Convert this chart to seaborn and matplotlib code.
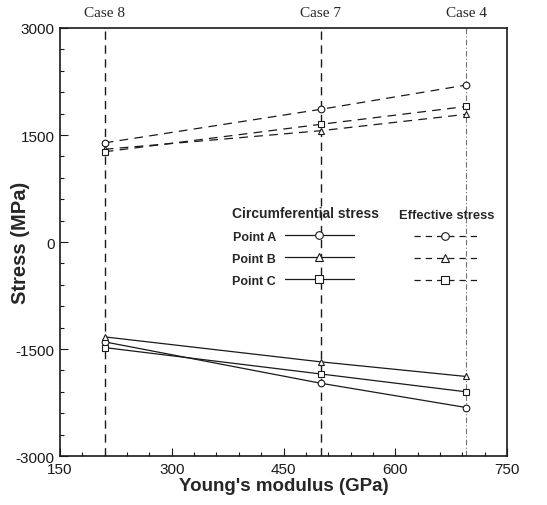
import matplotlib
matplotlib.use("Agg")
import matplotlib.pyplot as plt
import seaborn as sns
import numpy as np
import pandas as pd
from matplotlib.lines import Line2D
from matplotlib.ticker import MultipleLocator
from matplotlib import transforms

# data
youngs_modulus = [210, 500, 695]
case_labels = ["Case 8", "Case 7", "Case 4"]
points = ["Point A", "Point B", "Point C"]
circ_stress = {
    "Point A": [-1400, -1980, -2320],
    "Point B": [-1330, -1680, -1885],
    "Point C": [-1480, -1850, -2100],
}
eff_stress = {
    "Point A": [1390, 1860, 2200],
    "Point B": [1300, 1560, 1790],
    "Point C": [1265, 1650, 1900],
}
markers = {"Point A": "o", "Point B": "^", "Point C": "s"}

sns.set_theme(style="white")
plt.rcParams["font.family"] = ["Liberation Sans", "DejaVu Sans"]
plt.rcParams["axes.unicode_minus"] = False

fig = plt.figure(figsize=(5.47, 5.06), dpi=100)
ax = fig.add_axes([0.1097, 0.0968, 0.8173, 0.8459])

# vertical case lines
for i, (xv, lab) in enumerate(zip(youngs_modulus, case_labels)):
    if i < 2:
        ax.axvline(xv, color="k", lw=1.0, dashes=(6, 4), zorder=1)
    else:
        ax.axvline(xv, color="0.45", lw=0.8, dashes=(5, 2, 1, 2), zorder=1)
    ax.text(xv, 1.02, lab, transform=transforms.blended_transform_factory(ax.transData, ax.transAxes),
            ha="center", va="bottom", fontsize=11, family=["Liberation Serif", "DejaVu Serif"])

for p in points:
    sns.lineplot(x=youngs_modulus, y=circ_stress[p], ax=ax, color="k", lw=0.9,
                 marker=markers[p], markersize=4.8, markerfacecolor="white",
                 markeredgecolor="k", markeredgewidth=0.8, zorder=3)
    sns.lineplot(x=youngs_modulus, y=eff_stress[p], ax=ax, color="k", lw=0.9,
                 marker=markers[p], markersize=4.8, markerfacecolor="white",
                 markeredgecolor="k", markeredgewidth=0.8, dashes=(7, 5), zorder=3)

ax.set_xlim(150, 750)
ax.set_ylim(-3000, 3000)
ax.xaxis.set_major_locator(MultipleLocator(150))
ax.xaxis.set_minor_locator(MultipleLocator(30))
ax.yaxis.set_major_locator(MultipleLocator(1500))
ax.yaxis.set_minor_locator(MultipleLocator(300))
ax.tick_params(which="both", direction="in", bottom=True, left=True, top=False, right=False,
               colors="k", labelsize=11, width=0.8)
ax.tick_params(which="major", length=6, pad=4)
ax.tick_params(which="minor", length=3)
for s in ax.spines.values():
    s.set_color("k")
    s.set_linewidth(1.2)

ax.set_xlabel("Young's modulus (GPa)", fontsize=13.5, fontweight="bold", labelpad=1)
ax.set_ylabel("Stress (MPa)", fontsize=14.5, fontweight="bold")
ax.yaxis.set_label_coords(-0.068, 0.5)

# legend as a small table: solid = circumferential, dashed = effective
solid_handles = [Line2D([], [], color="k", lw=0.9, marker=markers[p], markersize=5.5,
                        markerfacecolor="white", markeredgecolor="k", markeredgewidth=0.8)
                 for p in points]
dash_handles = [Line2D([], [], color="k", lw=0.9, marker=markers[p], markersize=5.5,
                       markerfacecolor="white", markeredgecolor="k", markeredgewidth=0.8,
                       dashes=(5, 4))
                for p in points]
leg1 = ax.legend(solid_handles, points, loc="upper left", bbox_to_anchor=(0.385, 0.585),
                 frameon=False, markerfirst=False, handlelength=5.5, handletextpad=0.7,
                 labelspacing=0.8, borderpad=0, borderaxespad=0, alignment="left",
                 title="Circumferential stress",
                 prop={"size": 9, "weight": "bold"},
                 title_fontproperties={"size": 10, "weight": "bold"})
leg1._legend_box.sep = 8
ax.add_artist(leg1)
leg2 = ax.legend(dash_handles, [" ", " ", " "], loc="upper center", bbox_to_anchor=(0.866, 0.578),
                 frameon=False, handlelength=5.0, handletextpad=0, labelspacing=0.8,
                 borderpad=0, borderaxespad=0, title="Effective stress",
                 prop={"size": 9, "weight": "bold"},
                 title_fontproperties={"size": 9.3, "weight": "bold"})
leg2._legend_box.sep = 8

fig.savefig("out.png", dpi=100)
